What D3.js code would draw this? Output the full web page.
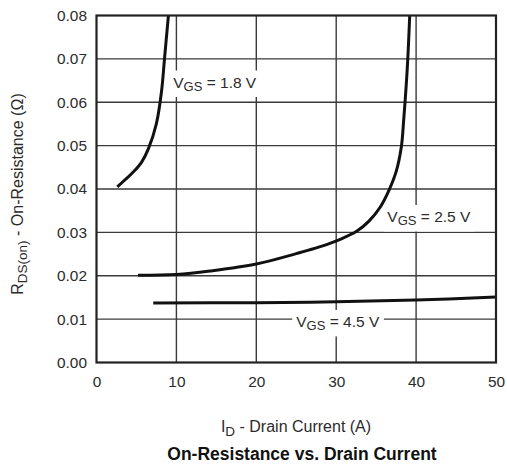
<!DOCTYPE html>
<html>
<head>
<meta charset="utf-8">
<script src="https://cdn.jsdelivr.net/npm/d3@7"></script>
<style>
  html, body { margin: 0; padding: 0; background: #fff; }
  svg { display: block; font-family: "Liberation Sans", Arial, sans-serif; }
</style>
</head>
<body>
<svg id="chart" width="507" height="465"></svg>
<script>
// Drain current (A) and on-resistance (Ω) for each gate voltage
const vgs18_id = [2.6, 4.6, 5.65, 6.5, 7.5, 8.15, 8.5, 9.0];
const vgs18_r  = [0.0405, 0.0439, 0.0462, 0.0493, 0.0551, 0.0627, 0.0698, 0.0800];

const vgs25_id = [5.2, 10, 14.2, 20, 25, 28, 30.5, 32.6, 34.1, 35.5, 36.6, 37.5, 38.15, 38.45, 38.9, 39.2];
const vgs25_r  = [0.0201, 0.0203, 0.0211, 0.0227, 0.0251, 0.0267, 0.0284, 0.0303, 0.0326, 0.0358, 0.0397, 0.0440, 0.0497, 0.0560, 0.0680, 0.0800];

const vgs45_id = [7.1, 20, 30, 40, 50];
const vgs45_r  = [0.0137, 0.0138, 0.0140, 0.0144, 0.0151];

const xTicks = [0, 10, 20, 30, 40, 50];
const yTicks = [0, 0.01, 0.02, 0.03, 0.04, 0.05, 0.06, 0.07, 0.08];

const curveLabels = [
  { v: "1.8", id: 9.6, r: 0.0634 },
  { v: "2.5", id: 36.4, r: 0.0324 },
  { v: "4.5", id: 25.0, r: 0.0082 }
];

const svg = d3.select("#chart");
const m = { left: 96.5, top: 15.5, right: 496, bottom: 362.5 };

const x = d3.scaleLinear().domain([0, 50]).range([m.left, m.right]);
const y = d3.scaleLinear().domain([0, 0.08]).range([m.bottom, m.top]);

const ink = "#2b2b2b";

// grid
const grid = svg.append("g").attr("stroke", "#3a3a3a").attr("stroke-width", 1.4);
grid.selectAll("line.v").data(xTicks.slice(1, -1)).enter().append("line")
  .attr("x1", d => x(d)).attr("x2", d => x(d))
  .attr("y1", m.top).attr("y2", m.bottom);
grid.selectAll("line.h").data(yTicks.slice(1, -1)).enter().append("line")
  .attr("x1", m.left).attr("x2", m.right)
  .attr("y1", d => y(d)).attr("y2", d => y(d));

// curves
const line = d3.line().x(d => x(d[0])).y(d => y(d[1])).curve(d3.curveCatmullRom.alpha(0.5));
const series = [
  d3.zip(vgs18_id, vgs18_r),
  d3.zip(vgs25_id, vgs25_r),
  d3.zip(vgs45_id, vgs45_r)
];
svg.append("g").selectAll("path").data(series).enter().append("path")
  .attr("d", line)
  .attr("fill", "none")
  .attr("stroke", "#111")
  .attr("stroke-width", 3)
  .attr("stroke-linejoin", "round");

// frame
svg.append("rect")
  .attr("x", m.left).attr("y", m.top)
  .attr("width", m.right - m.left).attr("height", m.bottom - m.top)
  .attr("fill", "none").attr("stroke", "#222").attr("stroke-width", 2.2);

// axis tick labels
const xAxis = d3.axisBottom(x).tickValues(xTicks).tickSize(0).tickPadding(14).tickFormat(d3.format("d"));
const gx = svg.append("g").attr("transform", `translate(0,${m.bottom})`).call(xAxis);
const yAxis = d3.axisLeft(y).tickValues(yTicks).tickSize(0).tickPadding(9.5).tickFormat(d3.format(".2f"));
const gy = svg.append("g").attr("transform", `translate(${m.left},0)`).call(yAxis);
[gx, gy].forEach(g => {
  g.select(".domain").remove();
  g.selectAll("text").attr("font-size", 15.4).attr("fill", ink)
    .attr("font-family", "Liberation Sans, Arial, sans-serif");
});

// curve labels with white backing
curveLabels.forEach(c => {
  const t = svg.append("text")
    .attr("x", x(c.id)).attr("y", y(c.r))
    .attr("font-size", 15.5).attr("fill", ink);
  t.append("tspan").text("V");
  t.append("tspan").text("GS").attr("font-size", 13).attr("dy", 3.5);
  t.append("tspan").text(` = ${c.v} V`).attr("dy", -3.5);
  const b = t.node().getBBox();
  svg.insert("rect", function () { return t.node(); })
    .attr("x", b.x - 4).attr("y", b.y - 3)
    .attr("width", b.width + 8).attr("height", b.height + 6)
    .attr("fill", "#fff");
});

// axis titles
const xt = svg.append("text")
  .attr("x", 296).attr("y", 432)
  .attr("text-anchor", "middle").attr("font-size", 16).attr("fill", ink);
xt.append("tspan").text("I");
xt.append("tspan").text("D").attr("font-size", 13.5).attr("dy", 3.5);
xt.append("tspan").text(" - Drain Current (A)").attr("dy", -3.5);

const yt = svg.append("text")
  .attr("transform", "translate(23,194) rotate(-90)")
  .attr("text-anchor", "middle").attr("font-size", 16).attr("fill", ink);
yt.append("tspan").text("R");
yt.append("tspan").text("DS(on)").attr("font-size", 13.5).attr("dy", 3.5);
yt.append("tspan").text(" - On-Resistance (Ω)").attr("dy", -3.5);

svg.append("text")
  .attr("x", 302).attr("y", 460)
  .attr("text-anchor", "middle").attr("font-size", 17.5).attr("font-weight", "bold")
  .attr("fill", "#111")
  .text("On-Resistance vs. Drain Current");
</script>
</body>
</html>
